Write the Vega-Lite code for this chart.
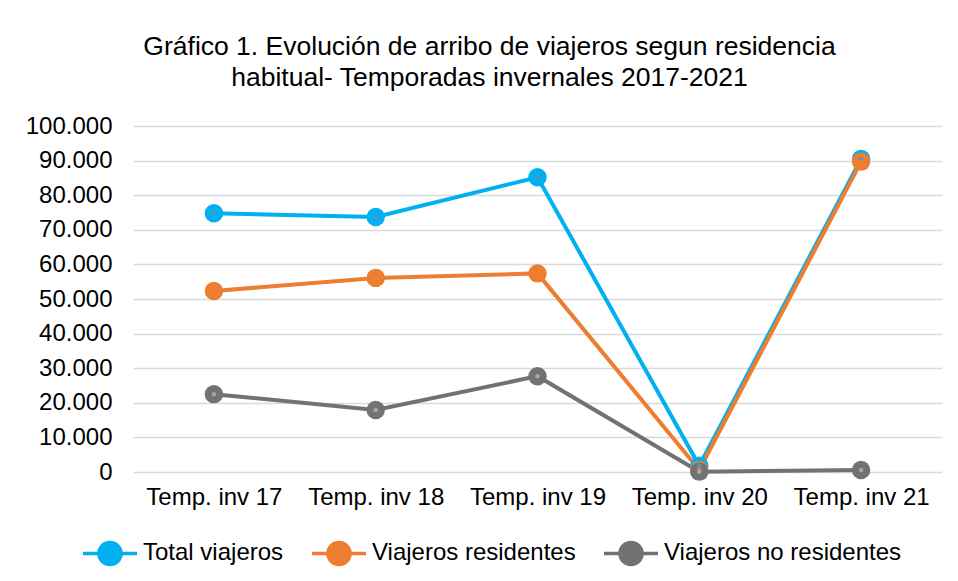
{
  "$schema": "https://vega.github.io/schema/vega-lite/v6.json",
  "autosize": {"type": "none"},
  "width": 809,
  "height": 346,
  "padding": {"left": 133, "top": 126, "right": 16, "bottom": 109},
  "background": "#ffffff",
  "config": {
    "font": "Liberation Sans",
    "view": {"stroke": null}
  },
  "title": {
    "text": ["Gráfico 1. Evolución de arribo de viajeros segun residencia", "habitual- Temporadas invernales 2017-2021"],
    "fontSize": 26.5,
    "fontWeight": "normal",
    "font": "Liberation Sans",
    "color": "#000000",
    "anchor": "middle",
    "lineHeight": 31,
    "dx": -48,
    "offset": 23
  },
  "data": {
    "values": [
      {"temporada": "Temp. inv 17", "serie": "Total viajeros", "viajeros": 74800},
      {"temporada": "Temp. inv 18", "serie": "Total viajeros", "viajeros": 73700},
      {"temporada": "Temp. inv 19", "serie": "Total viajeros", "viajeros": 85200},
      {"temporada": "Temp. inv 20", "serie": "Total viajeros", "viajeros": 1800},
      {"temporada": "Temp. inv 21", "serie": "Total viajeros", "viajeros": 90500},
      {"temporada": "Temp. inv 17", "serie": "Viajeros residentes", "viajeros": 52300},
      {"temporada": "Temp. inv 18", "serie": "Viajeros residentes", "viajeros": 56100},
      {"temporada": "Temp. inv 19", "serie": "Viajeros residentes", "viajeros": 57400},
      {"temporada": "Temp. inv 20", "serie": "Viajeros residentes", "viajeros": 600},
      {"temporada": "Temp. inv 21", "serie": "Viajeros residentes", "viajeros": 89700},
      {"temporada": "Temp. inv 17", "serie": "Viajeros no residentes", "viajeros": 22500},
      {"temporada": "Temp. inv 18", "serie": "Viajeros no residentes", "viajeros": 17900},
      {"temporada": "Temp. inv 19", "serie": "Viajeros no residentes", "viajeros": 27700},
      {"temporada": "Temp. inv 20", "serie": "Viajeros no residentes", "viajeros": 100},
      {"temporada": "Temp. inv 21", "serie": "Viajeros no residentes", "viajeros": 600}
    ]
  },
  "encoding": {
    "x": {
      "field": "temporada",
      "type": "ordinal",
      "scale": {"type": "point", "padding": 0.5},
      "axis": {
        "title": null,
        "labelAngle": 0,
        "labelFontSize": 24,
        "labelColor": "#000000",
        "labelPadding": 13,
        "domain": false,
        "ticks": false,
        "grid": false
      }
    },
    "y": {
      "field": "viajeros",
      "type": "quantitative",
      "scale": {"domain": [0, 100000], "nice": false},
      "axis": {
        "title": null,
        "values": [0, 10000, 20000, 30000, 40000, 50000, 60000, 70000, 80000, 90000, 100000],
        "labelExpr": "replace(format(datum.value, ','), ',', '.')",
        "labelFontSize": 24,
        "labelColor": "#000000",
        "labelPadding": 21,
        "domain": false,
        "ticks": false,
        "gridColor": "#d9d9d9",
        "gridWidth": 1.5
      }
    }
  },
  "layer": [
    {
      "mark": {"type": "line", "strokeWidth": 4},
      "encoding": {
        "color": {
          "field": "serie",
          "type": "nominal",
          "sort": ["Total viajeros", "Viajeros residentes", "Viajeros no residentes"],
          "scale": {
            "domain": ["Total viajeros", "Viajeros residentes", "Viajeros no residentes"],
            "range": ["#00b0f0", "#ed7d31", "#727272"]
          },
          "legend": {
            "title": null,
            "orient": "none",
            "direction": "horizontal",
            "legendX": -52,
            "legendY": 398,
            "labelFontSize": 24,
            "labelColor": "#000000",
            "labelLimit": 400,
            "symbolType": "M-1,0H1M0.41,0A0.41,0.41,0,1,1,-0.41,0A0.41,0.41,0,1,1,0.41,0Z",
            "symbolSize": 2916,
            "symbolStrokeWidth": 3.5,
            "labelOffset": 4,
            "columnPadding": 21,
            "encode": {
              "symbols": {
                "update": {
                  "fill": {"scale": "color", "field": "value"},
                  "stroke": {"scale": "color", "field": "value"},
                  "strokeWidth": {"value": 3.5}
                }
              }
            }
          }
        },
        "detail": {"field": "serie"}
      }
    },
    {
      "mark": {"type": "point", "filled": true, "size": 340, "opacity": 1},
      "encoding": {
        "color": {
          "field": "serie",
          "type": "nominal",
          "legend": null
        }
      }
    },
    {
      "mark": {"type": "point", "filled": true, "size": 20, "opacity": 1},
      "encoding": {
        "color": {
          "condition": [
            {"test": "datum.serie === 'Total viajeros'", "value": "#5f8fc4"},
            {"test": "datum.serie === 'Viajeros no residentes'", "value": "#a5a5a5"}
          ],
          "value": "#ed7d31"
        }
      }
    }
  ]
}
